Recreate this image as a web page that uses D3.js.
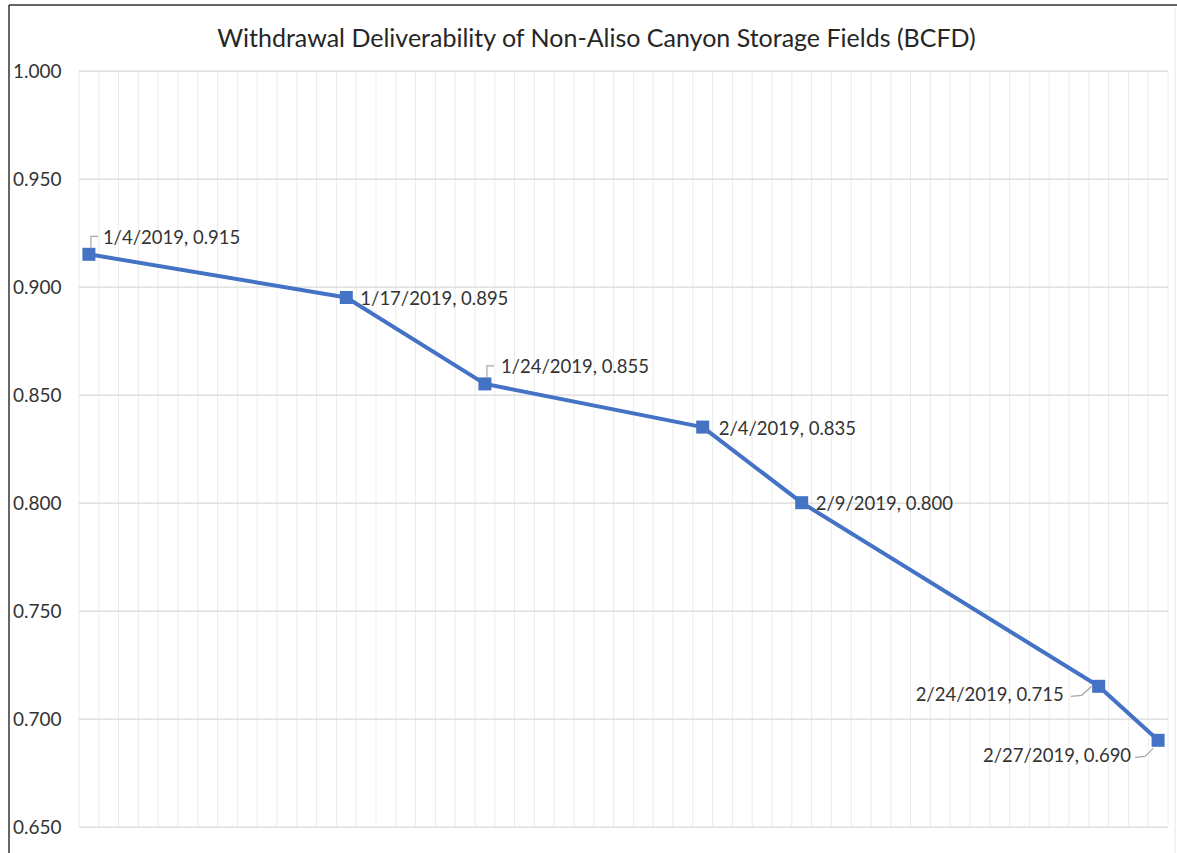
<!DOCTYPE html>
<html>
<head>
<meta charset="utf-8">
<script src="https://cdn.jsdelivr.net/npm/d3@7"></script>
<style>
  body { margin: 0; background: #fff; }
  svg { display: block; }
</style>
</head>
<body>
<div id="chart"></div>
<script>
// data
const dates = ["2019-01-04", "2019-01-17", "2019-01-24", "2019-02-04", "2019-02-09", "2019-02-24", "2019-02-27"]
const values = [0.915, 0.895, 0.855, 0.835, 0.800, 0.715, 0.690]
const dateLabels = ["1/4/2019", "1/17/2019", "1/24/2019", "2/4/2019", "2/9/2019", "2/24/2019", "2/27/2019"]
const yTicks = [0.65, 0.70, 0.75, 0.80, 0.85, 0.90, 0.95, 1.00]
const title = "Withdrawal Deliverability of Non-Aliso Canyon Storage Fields (BCFD)"

// where each data label sits relative to its point, plus leader line
const labelPlacement = [
  {dx: 14, dy: -17, anchor: "start", leader: [[2, -6], [2, -18], [9, -18]]},
  {dx: 14, dy: 1, anchor: "start", leader: null},
  {dx: 16, dy: -17, anchor: "start", leader: [[2, -6], [2, -18], [9, -18]]},
  {dx: 16, dy: 1, anchor: "start", leader: null},
  {dx: 14, dy: 1, anchor: "start", leader: null},
  {dx: -35, dy: 8, anchor: "end", leader: [[-28, 10], [-17, 9], [-7, 0]]},
  {dx: -27, dy: 15, anchor: "end", leader: [[-23, 17], [-13, 16], [-5, 8]]}
]

const W = 1177, H = 853
const plot = {left: 79, right: 1168, top: 70.7, bottom: 826.7}
const blue = "#4472C4"
const font = "Lato, 'Open Sans', sans-serif"

const svg = d3.select("#chart")
  .append("svg")
    .attr("width", W)
    .attr("height", H)
    .style("font-family", font)

svg.append("rect").attr("width", W).attr("height", H).attr("fill", "#fff")

const parse = d3.utcParse("%Y-%m-%d")
const data = dates.map((d, i) => ({date: parse(d), value: values[i], label: dateLabels[i] + ", " + values[i].toFixed(3)}))

// each day is a band, the point sits in the middle of it
const halfDay = 12 * 3600 * 1000
const first = data[0].date, last = data[data.length - 1].date
const x = d3.scaleUtc()
  .domain([new Date(+first - halfDay), new Date(+last + halfDay)])
  .range([plot.left, plot.right])

const y = d3.scaleLinear()
  .domain([0.65, 1.0])
  .range([plot.bottom, plot.top])

// vertical day gridlines (band edges)
const dayEdges = d3.utcDay.range(first, d3.utcDay.offset(last, 2)).map(d => new Date(+d - halfDay))
svg.append("g")
  .selectAll("line")
  .data(dayEdges)
  .join("line")
    .attr("x1", d => x(d)).attr("x2", d => x(d))
    .attr("y1", plot.top).attr("y2", plot.bottom)
    .attr("stroke", "#ebebeb")
    .attr("stroke-width", 1)

// y axis with horizontal gridlines
const yAxis = svg.append("g")
  .attr("transform", `translate(${plot.left},0)`)
  .call(d3.axisLeft(y).tickValues(yTicks).tickFormat(d3.format(".3f")).tickSize(-(plot.right - plot.left)).tickPadding(0))
yAxis.select(".domain").remove()
yAxis.selectAll(".tick line").attr("stroke", "#d9d9d9").attr("stroke-width", 1.3)
yAxis.selectAll(".tick text")
  .attr("x", 13 - plot.left)
  .attr("dy", "0.38em")
  .attr("text-anchor", "start")
  .attr("fill", "#333")
  .attr("font-size", 19)
  .attr("font-family", font)

// frame edges from the screenshot
svg.append("line").attr("x1", 9).attr("x2", W).attr("y1", 5).attr("y2", 5).attr("stroke", "#333").attr("stroke-width", 1.5)
svg.append("line").attr("x1", 9).attr("x2", 9).attr("y1", 5).attr("y2", H).attr("stroke", "#333").attr("stroke-width", 1.5)
svg.append("line").attr("x1", 1175).attr("x2", 1175).attr("y1", 8).attr("y2", H).attr("stroke", "#e6e6e6").attr("stroke-width", 1)

// title
svg.append("text")
  .attr("x", (218 + 975) / 2)
  .attr("y", 47)
  .attr("text-anchor", "middle")
  .attr("font-size", 25)
  .attr("fill", "#262626")
  .text(title)

// line
const line = d3.line().x(d => x(d.date)).y(d => y(d.value))
svg.append("path")
  .datum(data)
  .attr("d", line)
  .attr("fill", "none")
  .attr("stroke", blue)
  .attr("stroke-width", 4)
  .attr("stroke-linejoin", "round")

// markers
const ms = 13
svg.append("g")
  .selectAll("rect")
  .data(data)
  .join("rect")
    .attr("x", d => x(d.date) - ms / 2)
    .attr("y", d => y(d.value) - ms / 2)
    .attr("width", ms).attr("height", ms)
    .attr("fill", blue)

// leader lines
svg.append("g")
  .selectAll("path")
  .data(data.filter((d, i) => labelPlacement[i].leader))
  .join("path")
    .attr("d", d => {
      const p = labelPlacement[data.indexOf(d)]
      const px = x(d.date), py = y(d.value)
      return d3.line()(p.leader.map(([a, b]) => [px + a, py + b]))
    })
    .attr("fill", "none")
    .attr("stroke", "#a6a6a6")
    .attr("stroke-width", 1.2)

// data labels
svg.append("g")
  .selectAll("text")
  .data(data)
  .join("text")
    .attr("x", (d, i) => x(d.date) + labelPlacement[i].dx)
    .attr("y", (d, i) => y(d.value) + labelPlacement[i].dy)
    .attr("dy", "0.35em")
    .attr("text-anchor", (d, i) => labelPlacement[i].anchor)
    .attr("font-size", 18.5)
    .attr("fill", "#333")
    .text(d => d.label)
</script>
</body>
</html>
